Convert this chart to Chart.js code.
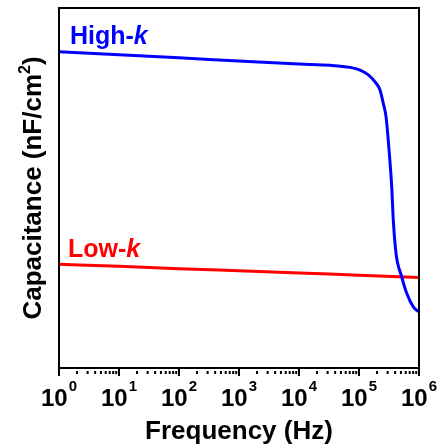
<!DOCTYPE html>
<html>
<head>
<meta charset="utf-8">
<style>
  html, body { margin: 0; padding: 0; background: #fff; }
  #wrap { width: 441px; height: 448px; position: relative; }
</style>
<script src="https://cdn.jsdelivr.net/npm/chart.js@4/dist/chart.umd.min.js"></script>
</head>
<body>
<div id="wrap"><canvas id="c" width="441" height="448"></canvas></div>
<script>
// Frequency sweep (Hz) and areal capacitance (nF/cm^2) for the two dielectrics
const highKFreq = [1, 10, 100, 1e3, 1e4, 3.29e4, 7.08e4, 1.04e5, 1.43e5, 1.85e5, 2.24e5, 2.54e5, 2.82e5,
                   3.2e5, 3.51e5, 3.73e5, 4.14e5, 5.15e5, 6.24e5, 8.04e5, 1e6];
const highKCap  = [105.4, 104.4, 103.4, 102.3, 101.3, 100.9, 100.2, 99.3, 97.7, 95.4, 92.7, 88.2, 83.8,
                   71.6, 60.4, 49.3, 38.2, 30.4, 24.9, 20.4, 18.7];

const lowKFreq = [1, 10, 100, 1e3, 1e4, 1e5, 1e6];
const lowKCap  = [34.6, 33.9, 33.1, 32.4, 31.7, 30.9, 30.2];

// Decade exponents shown under the frequency axis
const tickExponents = [0, 1, 2, 3, 4, 5, 6];

const xTitle = 'Frequency (Hz)';
const yTitle = ['Capacitance (nF/cm', '2', ')'];

const FONT = '"Liberation Sans", Arial, sans-serif';

function toPoints(xs, ys) { return xs.map((x, i) => ({ x, y: ys[i] })); }

const decor = {
  id: 'decor',
  afterDraw(chart) {
    const { ctx, chartArea: a } = chart;
    const xs = chart.scales.x;
    ctx.save();

    // plot frame
    ctx.strokeStyle = '#000';
    ctx.lineWidth = 2;
    ctx.strokeRect(a.left, a.top, a.right - a.left, a.bottom - a.top);

    // major and minor ticks on the log axis
    ctx.lineWidth = 2;
    ctx.beginPath();
    tickExponents.forEach((e, i) => {
      const base = Math.pow(10, e);
      const px = xs.getPixelForValue(base);
      ctx.moveTo(px, a.bottom + 1);
      ctx.lineTo(px, a.bottom + 8);
      if (i < tickExponents.length - 1) {
        for (let m = 2; m <= 9; m++) {
          const mp = xs.getPixelForValue(base * m);
          ctx.moveTo(mp, a.bottom + 3);
          ctx.lineTo(mp, a.bottom + 6);
        }
      }
    });
    ctx.stroke();

    // tick labels: 10 with a raised exponent
    ctx.fillStyle = '#000';
    ctx.textBaseline = 'alphabetic';
    tickExponents.forEach(e => {
      const px = xs.getPixelForValue(Math.pow(10, e));
      ctx.font = 'bold 24px ' + FONT;
      const wb = ctx.measureText('10').width;
      ctx.font = 'bold 15px ' + FONT;
      const we = ctx.measureText(String(e)).width;
      const x0 = px - (wb + we + 1) / 2;
      ctx.font = 'bold 24px ' + FONT;
      ctx.textAlign = 'left';
      ctx.fillText('10', x0, a.bottom + 38);
      ctx.font = 'bold 15px ' + FONT;
      ctx.fillText(String(e), x0 + wb + 1, a.bottom + 23);
    });

    // x axis title
    ctx.font = 'bold 26px ' + FONT;
    ctx.textAlign = 'center';
    ctx.fillText(xTitle, (a.left + a.right) / 2, a.bottom + 71);

    // y axis title, rotated, with superscript 2
    ctx.save();
    ctx.translate(41, (a.top + a.bottom) / 2);
    ctx.rotate(-Math.PI / 2);
    ctx.font = 'bold 26px ' + FONT;
    const w1 = ctx.measureText(yTitle[0]).width;
    const w3 = ctx.measureText(yTitle[2]).width;
    ctx.font = 'bold 16px ' + FONT;
    const w2 = ctx.measureText(yTitle[1]).width;
    let x = -(w1 + w2 + w3) / 2;
    ctx.textAlign = 'left';
    ctx.font = 'bold 26px ' + FONT;
    ctx.fillText(yTitle[0], x, 0);
    x += w1;
    ctx.font = 'bold 16px ' + FONT;
    ctx.fillText(yTitle[1], x, -11);
    x += w2;
    ctx.font = 'bold 26px ' + FONT;
    ctx.fillText(yTitle[2], x, 0);
    ctx.restore();

    // series labels
    function seriesLabel(text, color, x, y) {
      ctx.fillStyle = color;
      ctx.textAlign = 'left';
      ctx.font = 'bold 25px ' + FONT;
      ctx.fillText(text, x, y);
      const w = ctx.measureText(text).width;
      ctx.font = 'italic bold 25px ' + FONT;
      ctx.fillText('k', x + w, y);
    }
    seriesLabel('High-', '#0000ff', a.left + 11, 44);
    seriesLabel('Low-', '#ff0000', a.left + 9, 257);

    ctx.restore();
  }
};

new Chart(document.getElementById('c'), {
  type: 'line',
  data: {
    datasets: [
      { label: 'High-k', data: toPoints(highKFreq, highKCap), borderColor: '#0000ff', borderWidth: 3,
        pointRadius: 0, cubicInterpolationMode: 'monotone', fill: false },
      { label: 'Low-k', data: toPoints(lowKFreq, lowKCap), borderColor: '#ff0000', borderWidth: 3,
        pointRadius: 0, cubicInterpolationMode: 'monotone', fill: false }
    ]
  },
  options: {
    responsive: false,
    animation: false,
    layout: { padding: { left: 59, right: 22, top: 8, bottom: 80 } },
    plugins: { legend: { display: false }, tooltip: { enabled: false } },
    scales: {
      x: { type: 'logarithmic', min: 1, max: 1e6, display: false },
      y: { type: 'linear', min: 0, max: 120, display: false }
    }
  },
  plugins: [decor]
});
</script>
</body>
</html>
